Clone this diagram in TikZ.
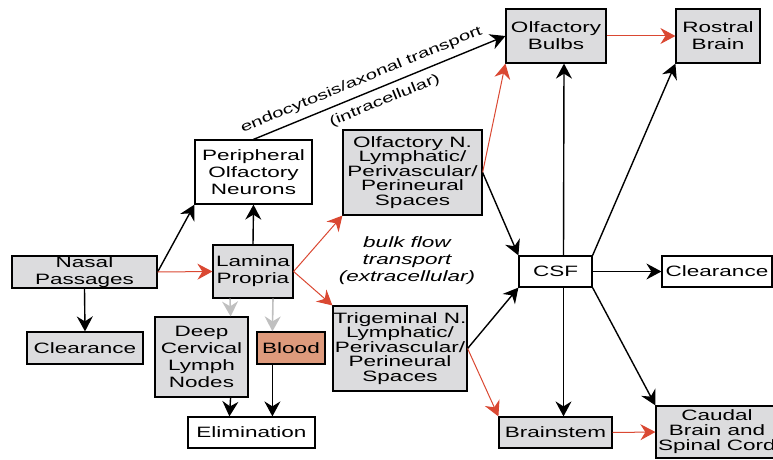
\documentclass[tikz,border=0pt]{standalone}
\usepackage{fontspec}
\setmainfont{Liberation Sans}[FakeStretch=1.5]
\usetikzlibrary{arrows.meta,calc}
\definecolor{boxgray}{RGB}{220,220,222}
\definecolor{flowred}{RGB}{218,72,50}
\definecolor{bloodfill}{RGB}{222,154,124}
\definecolor{palearrow}{RGB}{192,192,192}
\begin{document}
\begin{tikzpicture}[x=1pt,y=1pt]
  \tikzstyle{every node}+=[inner sep=0pt]
  \tikzstyle{box}=[draw=black, line width=1.2pt, align=center, font=\fontsize{15}{17}\selectfont]
  \tikzstyle{tight}=[font=\fontsize{15}{14.5}\selectfont]
  \tikzstyle{graybox}=[box, fill=boxgray]
  \tikzstyle{whitebox}=[box, fill=white]
  \tikzstyle{arr}=[-{Stealth[length=15pt,width=16pt,inset=5pt]}, line width=1.4pt]
  \tikzstyle{redarr}=[arr, draw=flowred, line width=1pt]
  \tikzstyle{palearr}=[arr, draw=palearrow, line width=1.6pt]
  \useasboundingbox (0,0) rectangle (773,-460);
  \node [graybox, minimum width=145, minimum height=32] (nasal) at (84.5,-272) {Nasal\\Passages};
  \node [graybox, minimum width=116, minimum height=32] (clearL) at (85,-348) {Clearance};
  \node [whitebox, minimum width=117, minimum height=64] (pon) at (253.5,-172) {Peripheral\\Olfactory\\Neurons};
  \node [graybox, minimum width=80, minimum height=53] (lamina) at (253,-271.5) {Lamina\\Propria};
  \node [graybox, minimum width=93, minimum height=80] (dcln) at (201.5,-357) {Deep\\Cervical\\Lymph\\Nodes};
  \node [box, fill=bloodfill, minimum width=68, minimum height=32] (blood) at (291,-348) {Blood};
  \node [whitebox, minimum width=127, minimum height=31] (elim) at (251.5,-432.5) {Elimination};
  \node [graybox, tight, minimum width=139, minimum height=85] (olfn) at (412.5,-172.5) {Olfactory N.\\Lymphatic/\\Perivascular/\\Perineural\\Spaces};
  \node [graybox, tight, minimum width=134, minimum height=85] (trig) at (400,-348.5) {Trigeminal N.\\Lymphatic/\\Perivascular/\\Perineural\\Spaces};
  \node [graybox, minimum width=100, minimum height=54] (ob) at (556,-36) {Olfactory\\Bulbs};
  \node [graybox, minimum width=84, minimum height=54] (rb) at (718,-36) {Rostral\\Brain};
  \node [whitebox, minimum width=73, minimum height=31] (csf) at (555.5,-271.5) {CSF};
  \node [whitebox, minimum width=110, minimum height=31] (clearR) at (717,-271.5) {Clearance};
  \node [graybox, minimum width=113, minimum height=31] (brain) at (555.5,-432.5) {Brainstem};
  \node [graybox, font=\fontsize{15}{15}\selectfont, minimum width=122, minimum height=52] (caudal) at (717,-432) {Caudal\\Brain and\\Spinal Cord};
  \node [align=center, font=\fontsize{15}{17}\selectfont\itshape] (bulk) at (407,-261) {bulk flow\\transport\\(extracellular)};
  \draw [arr] (nasal.south) -- (clearL.north);
  \draw [arr] (nasal.east) -- (pon.south west);
  \draw [redarr] (nasal.east) -- (lamina.west);
  \draw [arr] (lamina.north) -- (pon.south);
  \draw [palearr] ($(lamina.south)+(-23,0)$) -- ($(dcln.north east)+(-18,0)$);
  \draw [palearr] ($(lamina.south)+(20,0)$) -- ($(blood.north west)+(16,0)$);
  \draw [arr] ($(dcln.south east)+(-18,0)$) -- ($(elim.north west)+(42,0)$);
  \draw [arr] ($(blood.south west)+(16,0)$) -- ($(elim.north west)+(85,0)$);
  \draw [redarr] (lamina.east) -- (olfn.south west);
  \draw [redarr] (lamina.east) -- (trig.north west);
  \draw [arr] (pon.north) -- (ob.west)
    node [sloped, above=7pt, pos=0.45, font=\fontsize{13.6}{15}\selectfont] {endocytosis/axonal transport}
    node [sloped, below=7pt, pos=0.50, font=\fontsize{13.6}{15}\selectfont] {(intracellular)};
  \draw [redarr] (olfn.east) -- (ob.south west);
  \draw [arr] (olfn.east) -- (csf.north west);
  \draw [arr] (trig.east) -- (csf.south west);
  \draw [redarr] (trig.east) -- (brain.north west);
  \draw [arr] ($(csf.north)+(8,0)$) -- ($(ob.south)+(8,0)$);
  \draw [arr] ($(csf.south)+(8,0)$) -- ($(brain.north)+(8,0)$);
  \draw [arr] (csf.north east) -- (rb.south west);
  \draw [arr] (csf.east) -- (clearR.west);
  \draw [arr] (csf.south east) -- (caudal.north west);
  \draw [redarr] (ob.east) -- (rb.west);
  \draw [redarr] (brain.east) -- (caudal.west);
\end{tikzpicture}
\end{document}
